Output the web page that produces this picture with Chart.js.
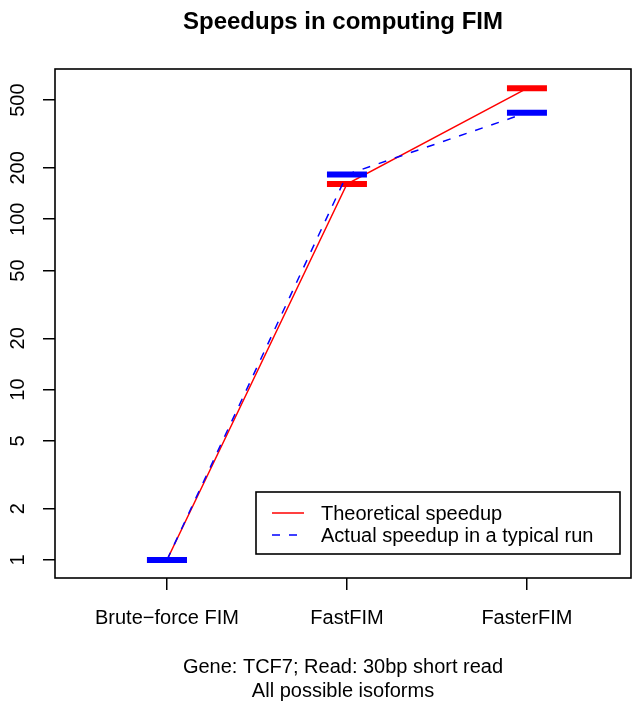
<!DOCTYPE html>
<html>
<head>
<meta charset="utf-8">
<title>Speedups in computing FIM</title>
<script src="https://cdn.jsdelivr.net/npm/chart.js@4.4.0/dist/chart.umd.min.js"></script>
<style>
html, body { margin: 0; padding: 0; background: #fff; }
#wrap { width: 633px; height: 701px; }
</style>
</head>
<body>
<div id="wrap"><canvas id="chart" width="633" height="701"></canvas></div>
<script>
// =====================================
// DATA
// =====================================

const categories = ["Brute\u2212force FIM", "FastFIM", "FasterFIM"];
const xPositions = [1, 2, 3];

const theoretical = [1, 161, 586];
const actual = [1, 183, 422];

const yTicks = [1, 2, 5, 10, 20, 50, 100, 200, 500];

const titleText = "Speedups in computing FIM";
const subtitleLines = ["Gene: TCF7; Read: 30bp short read", "All possible isoforms"];

// =====================================
// STYLE
// =====================================

const FONT = "'Liberation Sans', Arial, Helvetica, sans-serif";
Chart.defaults.font.family = FONT;
Chart.defaults.color = "#000";

function toPoints(values) {
    return values.map((v, i) => ({ x: xPositions[i], y: v }));
}

// keep the plot region where the reference has it
function noPadding(scale) {
    scale.paddingLeft = 0;
    scale.paddingRight = 0;
    scale.paddingTop = 0;
    scale.paddingBottom = 0;
}

// =====================================
// PLUGIN : frame + legend in plot
// =====================================

const framePlugin = {
    id: "frameLegend",
    afterDraw(chart) {
        const { ctx, chartArea } = chart;

        ctx.save();

        // box round the plot region
        ctx.strokeStyle = "#000";
        ctx.lineWidth = 1.6;
        ctx.strokeRect(chartArea.left, chartArea.top,
            chartArea.right - chartArea.left, chartArea.bottom - chartArea.top);

        // legend, bottom right
        const w = 364, h = 62;
        const x0 = chartArea.right - 11 - w;
        const y0 = chartArea.bottom - 24 - h;

        ctx.fillStyle = "#fff";
        ctx.fillRect(x0, y0, w, h);
        ctx.strokeRect(x0, y0, w, h);

        chart.data.datasets.forEach((ds, i) => {
            const y = y0 + 21 + i * 22;
            ctx.strokeStyle = ds.borderColor;
            ctx.lineWidth = ds.borderWidth;
            ctx.setLineDash(ds.borderDash || []);
            ctx.beginPath();
            ctx.moveTo(x0 + 16, y);
            ctx.lineTo(x0 + 48, y);
            ctx.stroke();
            ctx.setLineDash([]);

            ctx.fillStyle = "#000";
            ctx.font = "20px " + FONT;
            ctx.textBaseline = "middle";
            ctx.textAlign = "left";
            ctx.fillText(ds.label, x0 + 65, y + 1);
        });

        ctx.restore();
    }
};

// =====================================
// CHART
// =====================================

new Chart(document.getElementById("chart"), {
    type: "line",
    data: {
        datasets: [
            {
                label: "Theoretical speedup",
                data: toPoints(theoretical),
                borderColor: "#ff0000",
                backgroundColor: "#ff0000",
                borderWidth: 1.5,
                pointStyle: "line",
                pointRadius: 20,
                pointBorderWidth: 6,
                pointBorderColor: "#ff0000",
                tension: 0,
                order: 1
            },
            {
                label: "Actual speedup in a typical run",
                data: toPoints(actual),
                borderColor: "#0000ff",
                backgroundColor: "#0000ff",
                borderWidth: 1.5,
                borderDash: [8, 9],
                pointStyle: "line",
                pointRadius: 20,
                pointBorderWidth: 6,
                pointBorderColor: "#0000ff",
                tension: 0,
                order: 0
            }
        ]
    },
    options: {
        responsive: false,
        animation: false,
        layout: {
            autoPadding: false,
            padding: { left: 0, right: 2, top: 0, bottom: 0 }
        },
        plugins: {
            legend: { display: false },
            tooltip: { enabled: false },
            title: {
                display: true,
                text: titleText,
                fullSize: false,
                color: "#000",
                font: { size: 24, weight: "bold", lineHeight: 1.2 },
                padding: { top: 8, bottom: 32.2 }
            },
            subtitle: {
                display: true,
                text: subtitleLines,
                position: "bottom",
                fullSize: false,
                color: "#000",
                font: { size: 20, lineHeight: 1.2 },
                padding: { top: 2, bottom: -2 }
            }
        },
        scales: {
            x: {
                type: "linear",
                min: 0.378,
                max: 3.578,
                afterBuildTicks: (scale) => {
                    scale.ticks = xPositions.map(v => ({ value: v }));
                },
                afterFit: (scale) => {
                    scale.height = 75;
                    noPadding(scale);
                },
                grid: {
                    drawOnChartArea: false,
                    drawTicks: true,
                    tickLength: 12,
                    color: "#000",
                    lineWidth: 1.5
                },
                border: { display: false },
                ticks: {
                    color: "#000",
                    font: { size: 20, lineHeight: 1.2 },
                    padding: 16,
                    maxRotation: 0,
                    autoSkip: false,
                    callback: (v) => {
                        const i = xPositions.indexOf(v);
                        return i >= 0 ? categories[i] : "";
                    }
                }
            },
            y: {
                type: "logarithmic",
                min: 0.7842,
                max: 761.3,
                afterBuildTicks: (scale) => {
                    scale.ticks = yTicks.map(v => ({ value: v }));
                },
                afterFit: (scale) => {
                    scale.width = 55;
                    noPadding(scale);
                },
                grid: {
                    drawOnChartArea: false,
                    drawTicks: true,
                    tickLength: 12,
                    color: "#000",
                    lineWidth: 1.5
                },
                border: { display: false },
                ticks: {
                    color: "#000",
                    font: { size: 20, lineHeight: 1.2 },
                    padding: 8.3,
                    minRotation: 90,
                    maxRotation: 90,
                    crossAlign: "center",
                    autoSkip: false,
                    callback: (v) => String(v)
                }
            }
        }
    },
    plugins: [framePlugin]
});
</script>
</body>
</html>
